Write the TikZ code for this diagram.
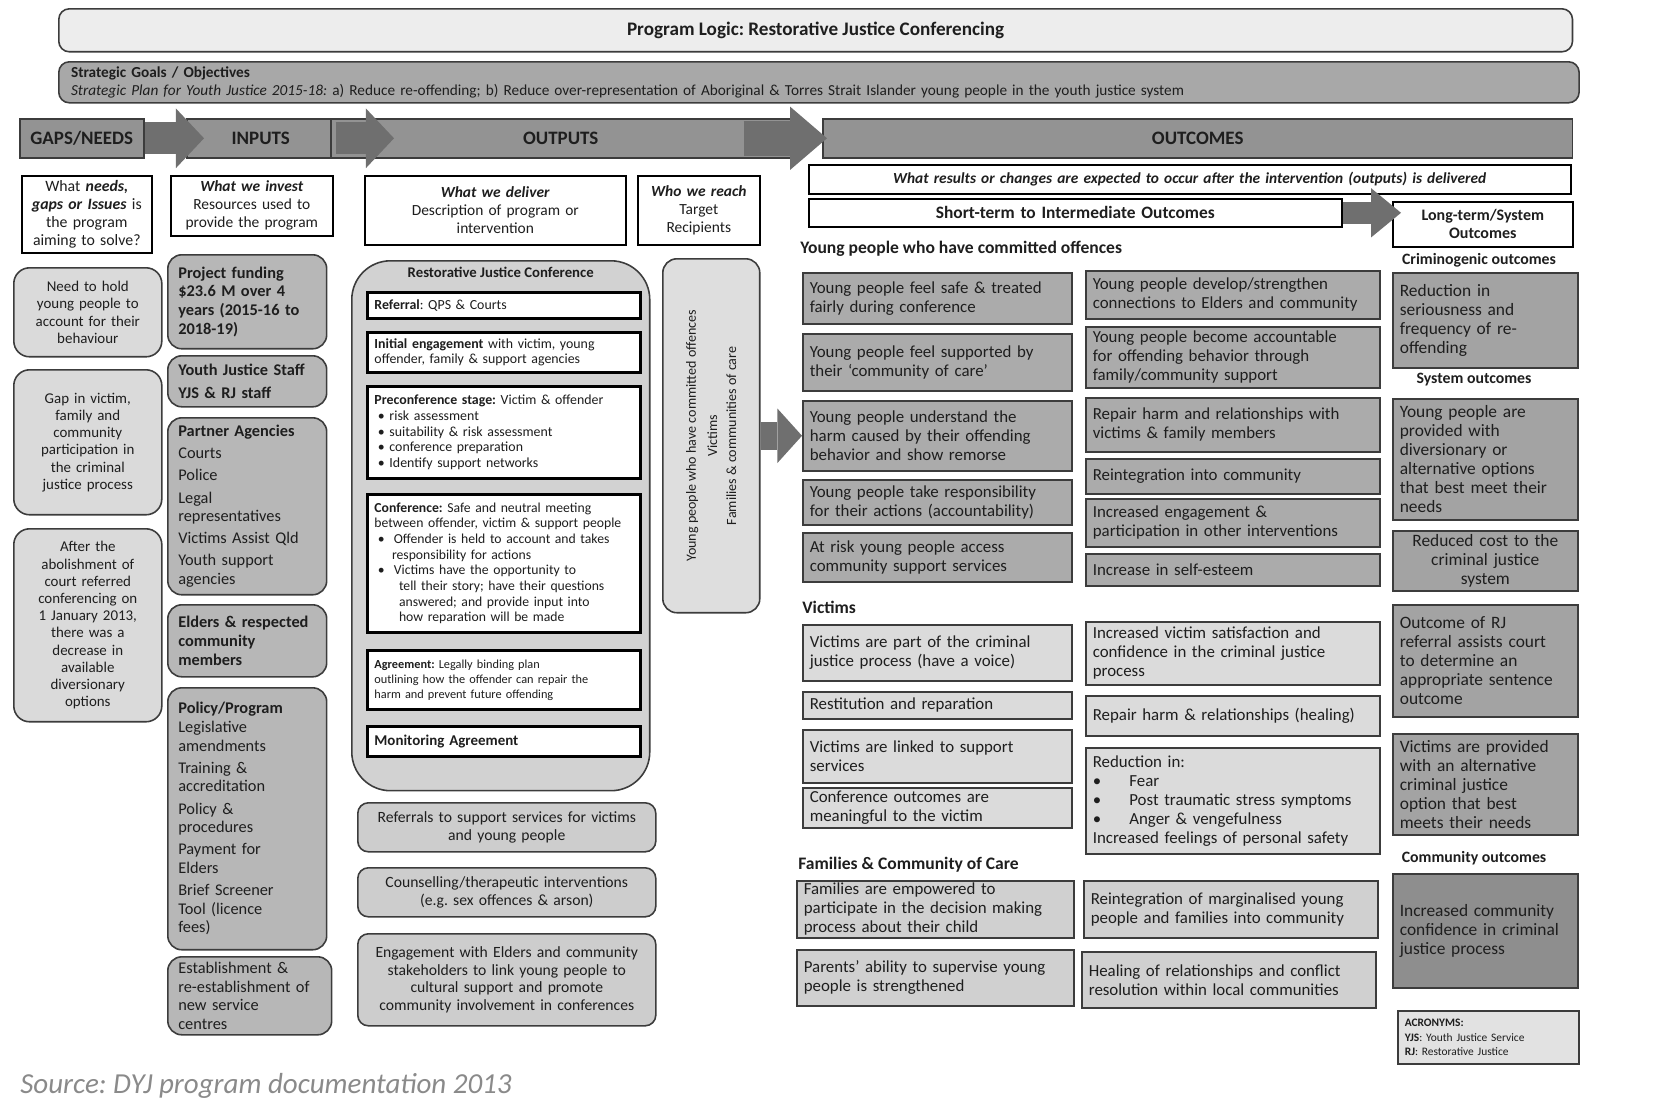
\documentclass[tikz,border=0pt]{standalone}
\usepackage{fontspec}
\setmainfont{Carlito}
\usepackage{tikz}
\usetikzlibrary{positioning,arrows.meta,calc}
\definecolor{edgecol}{HTML}{3C3C3C}
\definecolor{txtcol}{HTML}{1E1E1E}
\definecolor{titlefill}{HTML}{EDEDED}
\definecolor{stratfill}{HTML}{A8A8A8}
\definecolor{headfill}{HTML}{939393}
\definecolor{arrowfill}{HTML}{6F6F6F}
\definecolor{gapfill}{HTML}{DADADA}
\definecolor{inputfill}{HTML}{B7B7B7}
\definecolor{confill}{HTML}{D2D2D2}
\definecolor{outfill}{HTML}{CDCDCD}
\definecolor{reachfill}{HTML}{DEDEDE}
\definecolor{ypfill}{HTML}{ABABAB}
\definecolor{victfill}{HTML}{DBDBDB}
\definecolor{famfill}{HTML}{D0D0D0}
\definecolor{ltfill}{HTML}{A3A3A3}
\definecolor{commfill}{HTML}{8E8E8E}
\definecolor{acrfill}{HTML}{E2E2E2}
\definecolor{srccol}{HTML}{8A8A8A}
\frenchspacing

\begin{document}
\begin{tikzpicture}[x=0.02cm,y=-0.02cm,
  box/.style={anchor=north west,inner xsep=4pt,inner ysep=1pt,text=txtcol,draw=edgecol,line width=0.9pt},
  headbar/.style={box,fill=headfill,align=center,font=\fontsize{10.8}{12}\selectfont\bfseries,minimum height=0.78cm},
  descbox/.style={box,fill=white,draw=black,align=center,font=\fontsize{8.8}{10.2}\selectfont},
  gapbox/.style={box,fill=gapfill,rounded corners=9pt,align=center,text width=2.68cm,font=\fontsize{8.5}{9.8}\selectfont},
  inbox/.style={box,fill=inputfill,rounded corners=8pt,inner xsep=6pt,align=left,text width=2.757cm,font=\fontsize{9.3}{10.6}\selectfont},
  inbold/.style={inbox,font=\fontsize{9.3}{10.6}\selectfont\bfseries},
  stagebox/.style={box,fill=white,draw=black,line width=1.6pt,align=left,text width=5.18cm,font=\fontsize{7.9}{8.9}\selectfont},
  outbox/.style={box,fill=outfill,rounded corners=6pt,align=center,text width=5.68cm,font=\fontsize{8.9}{10}\selectfont},
  ocleft/.style={box,fill=ypfill,align=left,text width=5.10cm,font=\fontsize{9.6}{10.8}\selectfont},
  ocright/.style={ocleft,text width=5.60cm},
  vicleft/.style={ocleft,fill=victfill},
  vicright/.style={ocright,fill=victfill},
  famleft/.style={ocleft,fill=famfill,text width=5.26cm},
  famright/.style={ocright,fill=famfill},
  ltbox/.style={box,fill=ltfill,align=left,text width=3.42cm,font=\fontsize{9.9}{10.8}\selectfont},
  grouplabel/.style={anchor=west,inner sep=0pt,text=txtcol,font=\fontsize{10}{11}\selectfont\bfseries},
  ltlabel/.style={anchor=center,inner sep=0pt,text=txtcol,font=\fontsize{9}{10}\selectfont\bfseries},
  reachtext/.style={rotate=90,inner sep=0pt,text=txtcol,font=\fontsize{8}{9.6}\selectfont},
  hdarrow/.style={draw=arrowfill,line width=18pt,-{Triangle[length=16pt,width=34pt,line width=0pt]}},
  oparrow/.style={draw=arrowfill,line width=20pt,-{Triangle[length=21pt,width=36pt,line width=0pt]}},
  reacharrow/.style={draw=arrowfill,line width=16pt,-{Triangle[length=14pt,width=31pt,line width=0pt]}},
  ltarrow/.style={draw=arrowfill,line width=12.5pt,-{Triangle[length=17pt,width=28pt,line width=0pt]}}]

\useasboundingbox (0,0) rectangle (1662,1100);

% banner rows
\node[box,fill=titlefill,rounded corners=6pt,minimum width=30.28cm,minimum height=0.86cm,
      font=\fontsize{10.9}{12}\selectfont\bfseries] (title) at (58,8)
      {Program Logic: Restorative Justice Conferencing};
\node[box,fill=stratfill,rounded corners=6pt,inner xsep=7pt,text width=29.92cm,minimum height=0.82cm,
      align=left,font=\fontsize{8.7}{10.2}\selectfont] (goals) at (58,61)
{\textbf{Strategic Goals / Objectives}\\
\textit{Strategic Plan for Youth Justice 2015-18:} a) Reduce re-offending; b) Reduce over-representation of Aboriginal \& Torres Strait Islander young people in the youth justice system};

\node[headbar,minimum width=2.48cm] (gapsh) at (19,118) {GAPS/NEEDS};
\node[headbar,minimum width=2.96cm] (inputsh) at (186,118) {INPUTS};
\node[headbar,minimum width=9.20cm] (outputsh) at (330,118) {OUTPUTS};
\node[headbar,minimum width=15.00cm] (outcomesh) at (822,118) {OUTCOMES};
\draw[hdarrow] (gapsh.east) -- ($(inputsh.west)+(18,0)$);
\draw[hdarrow] (inputsh.east) -- ($(outputsh.west)+(64,0)$);
\draw[oparrow] ($(outputsh.east)+(-48,0)$) -- ($(outcomesh.west)+(5,0)$);

% column headings
\node[descbox,text width=2.32cm,minimum height=1.54cm,font=\fontsize{9}{10.2}\selectfont] (gapsq) at (21,175)
{What \textbf{\textit{needs,}}\\\textbf{\textit{gaps or Issues}} is\\the program\\aiming to solve?};
\node[descbox,text width=2.96cm,minimum height=1.20cm] (inputsq) at (170,175)
{\textbf{\textit{What we invest}}\\Resources used to\\provide the program};
\node[descbox,text width=4.94cm,minimum height=1.38cm] (outputsq) at (364,175)
{\textbf{\textit{What we deliver}}\\Description of program or\\intervention};
\node[descbox,text width=2.16cm,minimum height=1.38cm] (reachq) at (637,175)
{\textbf{\textit{Who we reach}}\\Target\\Recipients};
\node[descbox,text width=14.96cm,minimum height=0.58cm,font=\fontsize{8.75}{10}\selectfont\bfseries\itshape] (resultq) at (808,164)
{What results or changes are expected to occur after the intervention (outputs) is delivered};
\node[descbox,text width=10.38cm,minimum height=0.56cm,font=\fontsize{9.9}{11}\selectfont\bfseries] (shortq) at (808,198)
{Short-term to Intermediate Outcomes};
\node[descbox,text width=3.32cm,minimum height=0.90cm,font=\fontsize{9.1}{10.4}\selectfont\bfseries] (longq) at (1392,201)
{Long-term/System\\Outcomes};
\draw[ltarrow] (shortq.east) -- ($(shortq.east -| longq.west)+(9,0)$);

% gaps / needs
\node[gapbox,minimum height=1.78cm] (need) at (13,267)
{Need to hold\\young people to\\account for their\\behaviour};
\node[gapbox,minimum height=2.90cm] (gap) at (13,369)
{Gap in victim,\\family and\\community\\participation in\\the criminal\\justice process};
\node[gapbox,minimum height=3.86cm] (after) at (13,528)
{After the\\abolishment of\\court referred\\conferencing on\\1 January 2013,\\there was a\\decrease in\\available\\diversionary\\options};

% inputs
\node[inbold,minimum height=1.88cm] (funding) at (167,254)
{Project funding\\\$23.6 M over 4\\years (2015-16 to\\2018-19)};
\node[inbold,minimum height=1.02cm] (staff) at (167,355)
{Youth Justice Staff\\[2pt]YJS \& RJ staff};
\node[inbox,minimum height=3.54cm] (partners) at (167,417)
{\textbf{Partner Agencies}\\[2pt]Courts\\[2pt]Police\\[2pt]Legal\\representatives\\[2pt]Victims Assist Qld\\[2pt]Youth support\\agencies};
\node[inbold,minimum height=1.44cm] (elders) at (167,604)
{Elders \& respected\\community\\members};
\node[inbox,minimum height=5.24cm] (policy) at (167,687)
{\textbf{Policy/Program}\\Legislative\\amendments\\[2pt]Training \&\\accreditation\\[2pt]Policy \&\\procedures\\[2pt]Payment for\\Elders\\[2pt]Brief Screener\\Tool (licence\\fees)};
\node[inbox,text width=2.857cm,minimum height=1.56cm] (centres) at (167,956)
{Establishment \&\\re-establishment of\\new service\\centres};

% outputs
\node[box,fill=confill,rounded corners=22pt,minimum width=5.96cm,minimum height=10.6cm] (rjc) at (351,260) {};
\node[anchor=north,inner sep=0pt,text=txtcol,font=\fontsize{8.4}{9.6}\selectfont\bfseries] (rjctitle)
      at ($(rjc.north)+(0,7)$) {Restorative Justice Conference};
\node[stagebox,minimum height=0.52cm] (referral) at (366,291) {\textbf{Referral}: QPS \& Courts};
\node[stagebox,minimum height=0.80cm] (engage) at (366,331)
{\textbf{Initial engagement} with victim, young\\offender, family \& support agencies};
\node[stagebox,minimum height=1.84cm] (precon) at (366,385)
{\textbf{Preconference stage:} Victim \& offender\\
\hspace*{2pt}\textbullet\ risk assessment\\
\hspace*{2pt}\textbullet\ suitability \& risk assessment\\
\hspace*{2pt}\textbullet\ conference preparation\\
\hspace*{2pt}\textbullet\ Identify support networks};
\node[stagebox,minimum height=2.76cm,font=\fontsize{7.8}{8.9}\selectfont] (confer) at (366,493)
{\textbf{Conference:} Safe and neutral meeting\\
between offender, victim \& support people\\
\hspace*{2pt}\textbullet\ \ Offender is held to account and takes\\
\hspace*{10pt}responsibility for actions\\
\hspace*{2pt}\textbullet\ \ Victims have the opportunity to\\
\hspace*{14pt}tell their story; have their questions\\
\hspace*{14pt}answered; and provide input into\\
\hspace*{14pt}how reparation will be made};
\node[stagebox,minimum height=1.18cm,font=\fontsize{7}{8.6}\selectfont] (agree) at (366,649)
{\textbf{Agreement:} Legally binding plan\\outlining how the offender can repair the\\harm and prevent future offending};
\node[stagebox,minimum height=0.60cm,font=\fontsize{8.5}{10}\selectfont\bfseries] (monitor) at (366,725)
{Monitoring Agreement};

\node[outbox,minimum height=0.98cm] (refs) at (357,802)
{Referrals to support services for victims\\and young people};
\node[outbox,minimum height=0.98cm] (couns) at (357,867)
{Counselling/therapeutic interventions\\(e.g. sex offences \& arson)};
\node[outbox,minimum height=1.84cm] (elderlink) at (357,933)
{Engagement with Elders and community\\stakeholders to link young people to\\cultural support and promote\\community involvement in conferences};

% who we reach
\node[box,fill=reachfill,rounded corners=8pt,minimum width=1.94cm,minimum height=7.08cm] (reach) at (662,258) {};
\node[reachtext] (reachyp) at ($(reach.center)+(-19,0)$) {Young people who have committed offences};
\node[reachtext] (reachvic) at ($(reach.center)+(1,0)$) {Victims};
\node[reachtext] (reachfam) at ($(reach.center)+(20,0)$) {Families \& communities of care};

% outcomes: young people
\node[grouplabel] (yplabel) at (800,249) {Young people who have committed offences};
\node[ocleft,minimum height=1.02cm] (yp1) at (802,272) {Young people feel safe \& treated\\fairly during conference};
\node[ocleft,minimum height=1.14cm] (yp2) at (802,333) {Young people feel supported by\\their `community of care'};
\node[ocleft,minimum height=1.40cm] (yp3) at (802,400) {Young people understand the\\harm caused by their offending\\behavior and show remorse};
\node[ocleft,minimum height=0.90cm] (yp4) at (802,479) {Young people take responsibility\\for their actions (accountability)};
\node[ocleft,minimum height=0.98cm] (yp5) at (802,532) {At risk young people access\\community support services};
\node[ocright,minimum height=0.96cm] (yr1) at (1085,270) {Young people develop/strengthen\\connections to Elders and community};
\node[ocright,minimum height=1.22cm] (yr2) at (1085,326) {Young people become accountable\\for offending behavior through\\family/community support};
\node[ocright,minimum height=1.08cm] (yr3) at (1085,397) {Repair harm and relationships with\\victims \& family members};
\node[ocright,minimum height=0.70cm] (yr4) at (1085,458) {Reintegration into community};
\node[ocright,minimum height=0.96cm] (yr5) at (1085,498) {Increased engagement \&\\participation in other interventions};
\node[ocright,minimum height=0.64cm] (yr6) at (1085,553) {Increase in self-esteem};
\draw[reacharrow] (reach.east) -- (reach.east -| yp3.west);

% outcomes: victims
\node[grouplabel] (viclabel) at (802,607) {Victims};
\node[vicleft,minimum height=1.12cm] (v1) at (802,624) {Victims are part of the criminal\\justice process (have a voice)};
\node[vicleft,minimum height=0.54cm] (v2) at (802,691) {Restitution and reparation};
\node[vicleft,minimum height=1.06cm] (v3) at (802,729) {Victims are linked to support\\services};
\node[vicleft,minimum height=0.80cm] (v4) at (802,787) {Conference outcomes are\\meaningful to the victim};
\node[vicright,minimum height=1.26cm] (vr1) at (1085,621) {Increased victim satisfaction and\\confidence in the criminal justice\\process};
\node[vicright,minimum height=0.80cm] (vr2) at (1085,695) {Repair harm \& relationships (healing)};
\node[vicright,minimum height=2.12cm] (vr3) at (1085,747)
{Reduction in:\\
\textbullet\hspace{16pt}Fear\\
\textbullet\hspace{16pt}Post traumatic stress symptoms\\
\textbullet\hspace{16pt}Anger \& vengefulness\\
Increased feelings of personal safety};

% outcomes: families
\node[grouplabel] (famlabel) at (798,865) {Families \& Community of Care};
\node[famleft,minimum height=1.14cm] (f1) at (796,880) {Families are empowered to\\participate in the decision making\\process about their child};
\node[famleft,minimum height=1.12cm] (f2) at (796,949) {Parents' ability to supervise young\\people is strengthened};
\node[famright,minimum height=1.14cm] (fr1) at (1083,880) {Reintegration of marginalised young\\people and families into community};
\node[famright,minimum height=1.12cm] (fr2) at (1081,951) {Healing of relationships and conflict\\resolution within local communities};

% long-term / system
\node[ltlabel] (crimlabel) at (1479,260) {Criminogenic outcomes};
\node[ltbox,minimum height=1.90cm] (lt1) at (1392,272) {Reduction in\\seriousness and\\frequency of re-\\offending};
\node[ltlabel] (syslabel) at (1474,380) {System outcomes};
\node[ltbox,minimum height=2.42cm] (lt2) at (1392,398) {Young people are\\provided with\\diversionary or\\alternative options\\that best meet their\\needs};
\node[ltbox,minimum height=1.20cm,align=center] (lt3) at (1392,530) {Reduced cost to the\\criminal justice\\system};
\node[ltbox,minimum height=2.24cm] (lt4) at (1392,604) {Outcome of RJ\\referral assists court\\to determine an\\appropriate sentence\\outcome};
\node[ltbox,minimum height=2.02cm] (lt5) at (1392,733) {Victims are provided\\with an alternative\\criminal justice\\option that best\\meets their needs};
\node[ltlabel] (commlabel) at (1474,858) {Community outcomes};
\node[ltbox,fill=commfill,minimum height=2.28cm] (lt6) at (1392,873) {Increased community\\confidence in criminal\\justice process};
\node[box,fill=acrfill,text width=3.34cm,minimum height=1.06cm,align=left,font=\fontsize{6.5}{8}\selectfont] (acronyms) at (1397,1010)
{\textbf{ACRONYMS:}\\\textbf{YJS}: Youth Justice Service\\\textbf{RJ}: Restorative Justice};

\node[anchor=base west,inner sep=0pt,text=srccol,font=\fontsize{16.5}{18}\selectfont\itshape] (source) at (20,1093)
{Source: DYJ program documentation 2013};

\end{tikzpicture}
\end{document}
